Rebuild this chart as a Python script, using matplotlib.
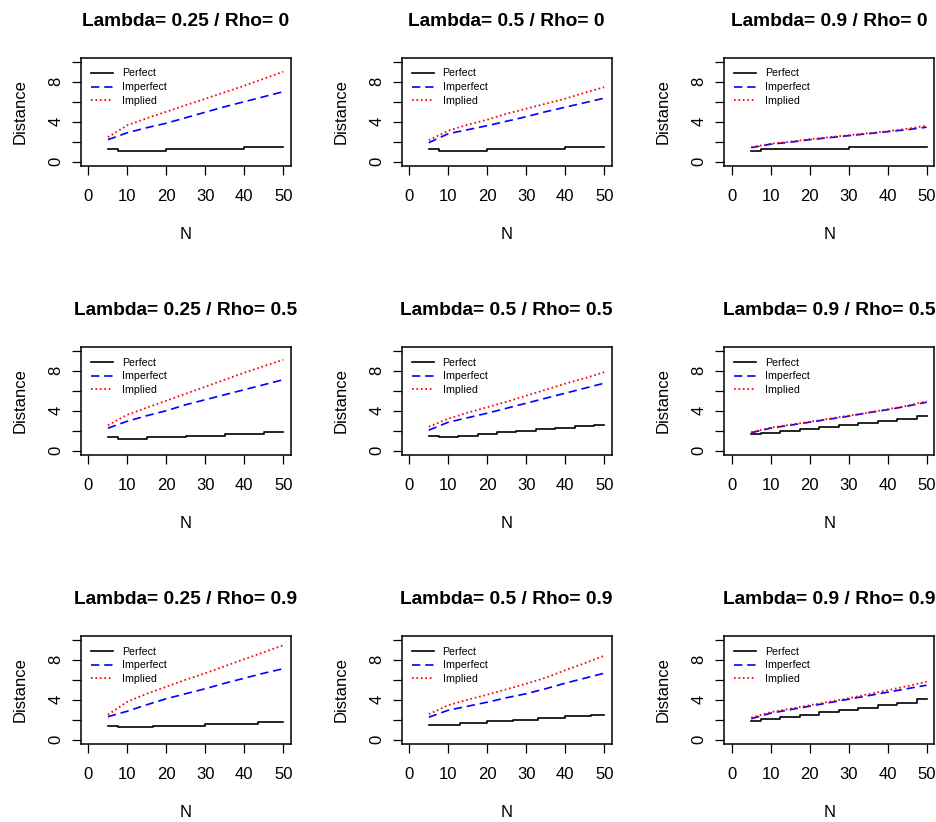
import matplotlib
matplotlib.use("Agg")
import matplotlib.pyplot as plt

plt.rcParams['font.family'] = ['Liberation Sans', 'DejaVu Sans']
plt.rcParams['lines.scale_dashes'] = False

# panel grid: columns = lambda, rows = rho
lambdas = ["0.25", "0.5", "0.9"]
rhos = ["0", "0.5", "0.9"]

n_grid = [5, 10, 15, 20, 25, 30, 35, 40, 45, 50]

# order: (rho 0: lam .25, .5, .9), (rho .5: ...), (rho .9: ...)
implied = [
    [2.45, 3.65, 4.35, 5.0, 5.65, 6.3, 6.95, 7.6, 8.3, 9.0],
    [2.15, 3.1, 3.7, 4.2, 4.8, 5.3, 5.8, 6.3, 6.9, 7.45],
    [1.45, 1.8, 2.0, 2.25, 2.45, 2.65, 2.85, 3.05, 3.3, 3.6],
    [2.55, 3.6, 4.3, 5.0, 5.7, 6.4, 7.1, 7.8, 8.45, 9.1],
    [2.4, 3.2, 3.8, 4.35, 4.9, 5.5, 6.1, 6.7, 7.25, 7.85],
    [1.85, 2.3, 2.6, 2.9, 3.2, 3.5, 3.8, 4.15, 4.5, 4.95],
    [2.5, 3.8, 4.6, 5.3, 6.0, 6.65, 7.35, 8.05, 8.75, 9.45],
    [2.55, 3.45, 4.0, 4.5, 5.05, 5.6, 6.2, 6.95, 7.65, 8.4],
    [2.2, 2.75, 3.1, 3.45, 3.8, 4.15, 4.55, 4.95, 5.35, 5.8],
]

imperfect = [
    [2.2, 2.9, 3.4, 3.85, 4.4, 4.95, 5.5, 6.0, 6.5, 7.0],
    [1.9, 2.8, 3.2, 3.6, 4.05, 4.5, 5.0, 5.45, 5.9, 6.35],
    [1.4, 1.75, 1.95, 2.2, 2.4, 2.6, 2.8, 3.0, 3.2, 3.45],
    [2.25, 2.95, 3.5, 4.0, 4.6, 5.1, 5.6, 6.1, 6.6, 7.1],
    [2.05, 2.85, 3.3, 3.75, 4.25, 4.75, 5.25, 5.75, 6.25, 6.75],
    [1.8, 2.25, 2.55, 2.85, 3.15, 3.45, 3.8, 4.1, 4.45, 4.85],
    [2.3, 2.85, 3.5, 4.1, 4.6, 5.1, 5.65, 6.15, 6.65, 7.1],
    [2.25, 2.95, 3.35, 3.75, 4.2, 4.6, 5.1, 5.65, 6.15, 6.65],
    [2.1, 2.65, 3.0, 3.35, 3.7, 4.05, 4.4, 4.75, 5.1, 5.45],
]

# perfect is a staircase: N where the level changes, and the level
perfect_n = [
    [5, 7.5, 20, 40, 50],
    [5, 7.5, 20, 40, 50],
    [5, 7.5, 30, 50],
    [5, 7.5, 15, 25, 35, 45, 50],
    [5, 7.5, 12.5, 17.5, 22.5, 27.5, 32.5, 37.5, 42.5, 47.5, 50],
    [5, 7.5, 12.5, 17.5, 22.5, 27.5, 32.5, 37.5, 42.5, 47.5, 50],
    [5, 7.5, 16.5, 30, 43.5, 50],
    [5, 13, 20, 26.5, 33, 40, 46.5, 50],
    [5, 7.5, 12.5, 17.5, 22.5, 27.5, 32.5, 37.5, 42.5, 47.5, 50],
]
perfect = [
    [1.27, 1.1, 1.27, 1.45, 1.45],
    [1.27, 1.1, 1.27, 1.45, 1.45],
    [1.1, 1.27, 1.45, 1.45],
    [1.33, 1.17, 1.33, 1.47, 1.63, 1.83, 1.83],
    [1.5, 1.33, 1.5, 1.67, 1.83, 2.0, 2.13, 2.27, 2.43, 2.6, 2.6],
    [1.65, 1.8, 1.95, 2.15, 2.35, 2.55, 2.75, 2.95, 3.15, 3.45, 3.45],
    [1.42, 1.26, 1.42, 1.59, 1.75, 1.75],
    [1.5, 1.67, 1.83, 2.0, 2.17, 2.33, 2.47, 2.47],
    [1.9, 2.05, 2.25, 2.5, 2.75, 2.95, 3.2, 3.45, 3.7, 4.1, 4.1],
]

W, H = 936, 822
fig = plt.figure(figsize=(W / 100, H / 100), dpi=100)

col_left = [80.6, 401.5, 723.9]
row_top = [57.7, 346.7, 635.7]
ax_w, ax_h = 210.5, 108

for r in range(3):
    for c in range(3):
        k = r * 3 + c
        ax = fig.add_axes([col_left[c] / W, 1 - (row_top[r] + ax_h) / H, ax_w / W, ax_h / H])

        ax.plot(perfect_n[k], perfect[k], color='black', lw=1.2,
                drawstyle='steps-post', label='Perfect')
        ax.plot(n_grid, imperfect[k], color='blue', lw=1.2,
                dashes=(6, 3.5), label='Imperfect')
        ax.plot(n_grid, implied[k], color='red', lw=1.3,
                dashes=(1.2, 2.0), label='Implied')

        ax.set_xlim(-2, 52)
        ax.set_ylim(-0.4, 10.4)
        ax.set_xticks([0, 10, 20, 30, 40, 50])
        ax.set_yticks([0, 2, 4, 6, 8, 10])
        ax.set_yticklabels(['0', '', '4', '', '8', ''], rotation=90, va='center')

        ax.tick_params(axis='both', direction='out', length=6.5, width=0.9,
                       labelsize=12)
        ax.tick_params(axis='x', pad=10)
        ax.tick_params(axis='y', pad=6)
        for s in ax.spines.values():
            s.set_linewidth(1.1)

        ax.set_title(f"Lambda= {lambdas[c]} / Rho= {rhos[r]}",
                     fontsize=13.8, fontweight='bold', pad=23)
        ax.set_xlabel('N', fontsize=12)
        ax.set_ylabel('Distance', fontsize=12)
        ax.xaxis.set_label_coords(0.5, -0.567)
        ax.yaxis.set_label_coords(-0.253, 0.5)

        ax.legend(loc='upper left', bbox_to_anchor=(0.048, 0.90), frameon=False,
                  fontsize=7.7, borderpad=0, borderaxespad=0, handlelength=2.1,
                  handletextpad=0.8, labelspacing=0.36)

fig.savefig('out.png', dpi=100)
